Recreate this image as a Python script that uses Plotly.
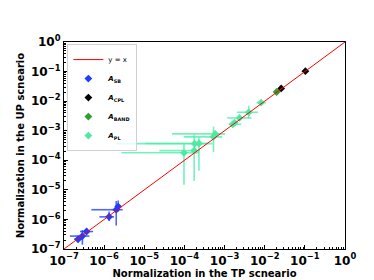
import plotly.graph_objects as go

# ---- data ----
line_x = [1e-7, 1.0]
line_y = [1e-7, 1.0]

# A_SB
sb_x = [2.24e-7, 2.87e-7, 3.65e-7, 1.33e-6, 2.0e-6, 2.24e-6]
sb_y = [2.14e-7, 2.74e-7, 3.9e-7, 1.22e-6, 2.13e-6, 2.72e-6]
sb_xlo = [1.8e-7, 1.4e-7, 2.5e-7, 7.6e-7, 4.8e-7, 1.9e-6]
sb_xhi = [2.8e-7, 4.3e-7, 5.3e-7, 1.76e-6, 2.9e-6, 2.6e-6]
sb_ylo = [1.7e-7, 1.4e-7, 3.3e-7, 8.9e-7, 6.2e-7, 1.86e-6]
sb_yhi = [2.7e-7, 4.3e-7, 5.0e-7, 1.86e-6, 4.2e-6, 4.4e-6]

# A_CPL
cpl_x = [0.0257, 0.103]
cpl_y = [0.0269, 0.103]

# A_BAND
band_x = [0.0198]
band_y = [0.0204]

# A_PL
pl_x = [9.75e-5, 1.75e-4, 1.8e-4, 2.3e-4, 5.3e-4, 5.85e-4, 1.59e-3, 1.78e-3, 2.35e-3, 4.0e-3, 8.1e-3]
pl_y = [1.79e-4, 2.13e-4, 3.65e-4, 3.7e-4, 6.2e-4, 7.8e-4, 1.65e-3, 1.86e-3, 2.7e-3, 4.2e-3, 8.9e-3]
pl_xlo = [2.7e-6, 2.37e-5, 2.0e-6, 1.07e-5, 9.6e-5, 4.9e-5, 1.27e-3, 1.5e-3, 1.16e-3, 2.04e-3, 6.2e-3]
pl_xhi = [2.3e-4, 2.4e-4, 5.0e-4, 3.8e-4, 8.7e-4, 1.03e-3, 2.6e-3, 2.1e-3, 4.7e-3, 6.8e-3, 1.07e-2]
pl_ylo = [1.5e-5, 2.0e-5, 3.0e-4, 4.4e-5, 1.9e-4, 6.5e-4, 1.4e-3, 1.6e-3, 2.3e-3, 2.64e-3, 8.0e-3]
pl_yhi = [3.5e-4, 7.4e-4, 4.4e-4, 5.9e-4, 1.38e-3, 9.4e-4, 1.95e-3, 2.2e-3, 3.2e-3, 7.0e-3, 1.0e-2]

tick_vals = [1e-7, 1e-6, 1e-5, 1e-4, 1e-3, 1e-2, 1e-1, 1e0]
tick_text = ["10<sup>\u22127</sup>", "10<sup>\u22126</sup>", "10<sup>\u22125</sup>", "10<sup>\u22124</sup>",
             "10<sup>\u22123</sup>", "10<sup>\u22122</sup>", "10<sup>\u22121</sup>", "10<sup>0</sup>"]

minor_vals = [m * d for d in tick_vals[:-1] for m in range(2, 10)]


def errs(v, lo, hi):
    return [h - c for c, h in zip(v, hi)], [c - l for c, l in zip(v, lo)]


fig = go.Figure()

def add_err_trace(name, x, y, xlo, xhi, ylo, yhi, mcolor, ecolor):
    ex_p, ex_m = errs(x, xlo, xhi)
    ey_p, ey_m = errs(y, ylo, yhi)
    fig.add_trace(go.Scatter(
        x=x, y=y, mode="markers", name=name,
        marker=dict(symbol="diamond", size=6, color=mcolor),
        error_x=dict(type="data", array=ex_p, arrayminus=ex_m, color=ecolor, thickness=1.6, width=0),
        error_y=dict(type="data", array=ey_p, arrayminus=ey_m, color=ecolor, thickness=1.6, width=0),
    ))

add_err_trace("<b><i>A</i></b><sub><b>SB</b></sub>", sb_x, sb_y, sb_xlo, sb_xhi, sb_ylo, sb_yhi,
              "#1f3dff", "rgba(20,50,255,0.75)")
fig.add_trace(go.Scatter(x=cpl_x, y=cpl_y, mode="markers", name="<b><i>A</i></b><sub><b>CPL</b></sub>",
                         marker=dict(symbol="diamond", size=6, color="black")))
fig.add_trace(go.Scatter(x=band_x, y=band_y, mode="markers", name="<b><i>A</i></b><sub><b>BAND</b></sub>",
                         marker=dict(symbol="diamond", size=6, color="#2ca02c")))
add_err_trace("<b><i>A</i></b><sub><b>PL</b></sub>", pl_x, pl_y, pl_xlo, pl_xhi, pl_ylo, pl_yhi,
              "#4deaa2", "rgba(70,238,165,0.75)")
fig.add_trace(go.Scatter(x=line_x, y=line_y, mode="lines", name="y = x",
                         line=dict(color="red", width=1), legendrank=1))

axis_common = dict(
    type="log", range=[-7, 0], tickmode="array", tickvals=tick_vals, ticktext=tick_text,
    showline=True, mirror=True, linecolor="black", linewidth=1.2,
    ticks="inside", ticklen=4, tickwidth=1, tickcolor="black",
    minor=dict(tickmode="array", tickvals=minor_vals, ticks="inside", ticklen=2,
               tickwidth=0.7, tickcolor="black", showgrid=False),
    showgrid=False, zeroline=False,
    tickfont=dict(family="DejaVu Sans", size=12, color="black", weight="bold"),
)

fig.update_layout(
    width=374, height=280,
    margin=dict(l=47, r=37, t=34, b=31),
    plot_bgcolor="white", paper_bgcolor="white",
    showlegend=True,
    legend=dict(x=0.012, y=0.99, xanchor="left", yanchor="top",
                bgcolor="rgba(255,255,255,0.8)", bordercolor="#d0d0d0", borderwidth=1,
                font=dict(family="DejaVu Sans", size=7, color="black"),
                tracegroupgap=0, itemwidth=30),
    xaxis=dict(axis_common, title=dict(text="Normalization in the TP scneario", standoff=1,
                                       font=dict(family="DejaVu Sans", size=10, color="black", weight="bold"))),
    yaxis=dict(axis_common, title=dict(text="Normalization in the UP scneario", standoff=4,
                                       font=dict(family="DejaVu Sans", size=10, color="black", weight="bold"))),
)

fig.write_html("out.html")
